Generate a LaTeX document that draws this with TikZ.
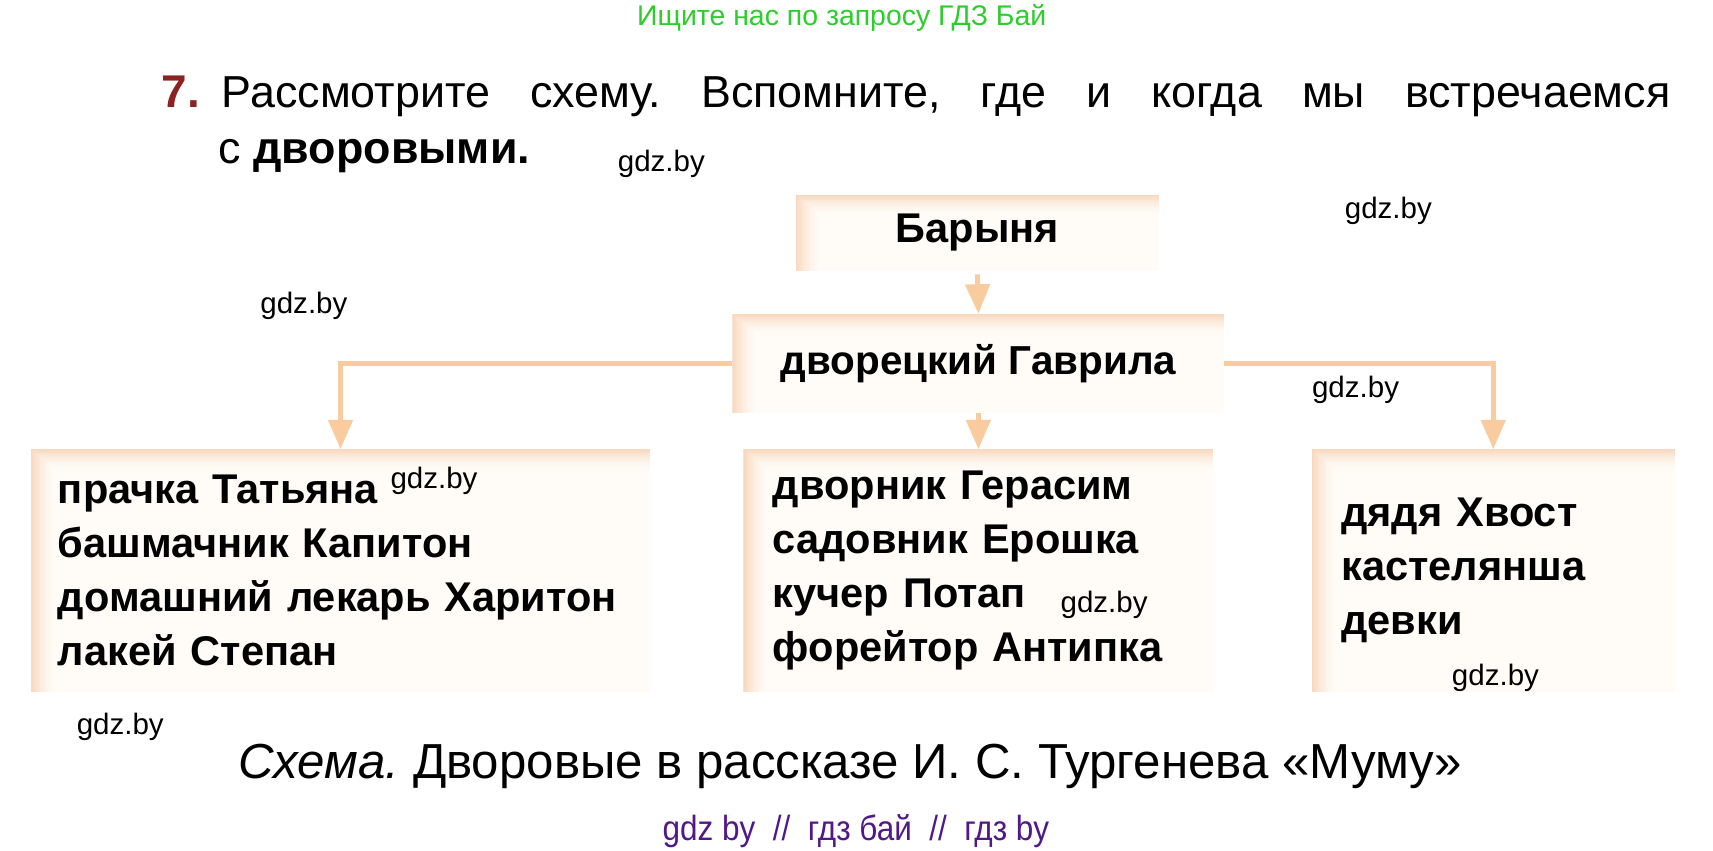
\documentclass[tikz,border=0pt]{standalone}
\usepackage{fontspec}
\setmainfont{Liberation Sans}
\newfontfamily\condfont[FakeStretch=0.9]{Liberation Sans}
\usetikzlibrary{arrows.meta}
\definecolor{peach}{RGB}{249,204,160}
\definecolor{glow}{RGB}{248,216,190}
\definecolor{cream}{RGB}{255,251,246}
\definecolor{wmgreen}{RGB}{45,205,45}
\definecolor{wmpurple}{RGB}{80,25,135}
\definecolor{numred}{RGB}{140,35,35}
\frenchspacing
\tikzset{
  glowbox/.style={fill=cream, anchor=center, path picture={
      \foreach \i in {0,...,20}{
        \pgfmathsetmacro\c{100*(1-\i/20)^1.6}
        \fill[glow!\c!cream] ([xshift=\i*1.1pt,yshift=-\i*0.9pt]path picture bounding box.north west)
          rectangle (path picture bounding box.south east);
      }}},
  listbox/.style={glowbox, inner xsep=25pt, align=left, font=\fontsize{38}{49.5}\selectfont\bfseries},
  conn/.style={draw=peach, line width=4.5pt, -{Triangle[length=27pt,width=22pt]}},
  wm/.style={font=\fontsize{27}{30}\selectfont, anchor=center},
}
\begin{document}
\begin{tikzpicture}[x=1pt,y=-1pt, every node/.style={inner sep=0pt, outer sep=0pt}]
\useasboundingbox (0,0) rectangle (1567,778);
\fill[white] (0,0) rectangle (1567,778);

% top watermark
\node[font=\fontsize{26}{30}\selectfont, text=wmgreen] (green) at (770,16) {Ищите нас по запросу ГДЗ Бай};

% heading
\node[anchor=base west, font=\fontsize{42}{48}\selectfont\bfseries, text=numred] (num) at (148,98) {7.};
\node[anchor=base west, font=\fontsize{41}{48}\selectfont] (head1) at (203,98)
  {\makebox[1325pt][s]{Рассмотрите схему. Вспомните, где и когда мы встречаемся}};
\node[anchor=base west, font=\fontsize{41}{48}\selectfont] (head2) at (200,150) {с \textbf{дворовыми.}};

% boxes
\node[glowbox, minimum width=332pt, minimum height=70pt, font=\fontsize{38}{44}\selectfont\bfseries] (bar) at (894,213) {Барыня};
\node[glowbox, minimum width=450pt, minimum height=91pt, font=\fontsize{37}{44}\selectfont\bfseries] (gav) at (895,332.5) {дворецкий Гаврила};
\node[listbox, minimum width=567pt, minimum height=222pt, text width=517pt] (left) at (311.5,522)
  {прачка Татьяна\\башмачник Капитон\\домашний лекарь Харитон\\лакей Степан};
\node[listbox, minimum width=430pt, minimum height=222pt, text width=376pt, inner xsep=27pt] (mid) at (895,522)
  {дворник Герасим\\садовник Ерошка\\кучер Потап\\форейтор Антипка};
\node[listbox, minimum width=332pt, minimum height=222pt, text width=278pt, inner xsep=27pt] (right) at (1366,522)
  {дядя Хвост\\кастелянша\\девки};

% connectors
\draw[conn, shorten <=3pt] (bar.south) -- (gav.north);
\draw[conn] (gav.south) -- (mid.north);
\draw[conn] (gav.west) -| (left.north);
\draw[conn] (gav.east) -| (right.north);

% caption
\node[anchor=base west, font=\fontsize{45}{50}\selectfont] (cap) at (218,712)
  {\textit{Схема.} Дворовые в рассказе И.~С. Тургенева «Муму»};

% watermarks
\node[wm] (w1) at (605,150) {gdz.by};
\node[wm] (w2) at (1270,193) {gdz.by};
\node[wm] (w3) at (278,280) {gdz.by};
\node[wm] (w4) at (1240,357) {gdz.by};
\node[wm] (w5) at (397,440) {gdz.by};
\node[wm] (w6) at (1010,553) {gdz.by};
\node[wm] (w7) at (110,665) {gdz.by};
\node[wm] (w8) at (1368,620) {gdz.by};
\node[font=\fontsize{32}{34}\selectfont\condfont, text=wmpurple] (bot) at (783,760) {gdz by \ // \ гдз бай \ // \ гдз by};
\end{tikzpicture}
\end{document}
